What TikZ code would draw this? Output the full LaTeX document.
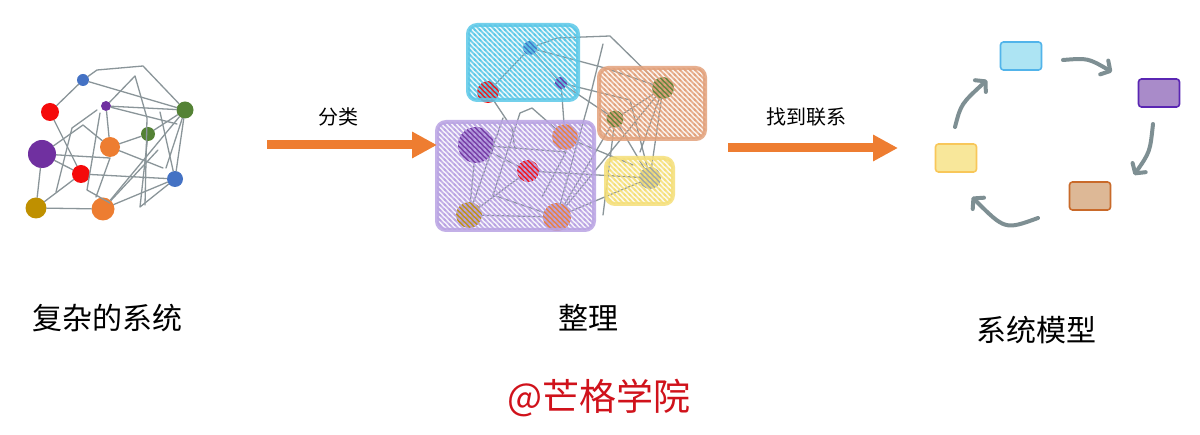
\documentclass[tikz,border=0pt]{standalone}
\usepackage{fontspec}
\newfontfamily\cjk{Noto Sans CJK SC}
\usetikzlibrary{arrows.meta,patterns}
\definecolor{nblue}{HTML}{4472C4}
\definecolor{nred}{HTML}{F50A0A}
\definecolor{npurple}{HTML}{7030A0}
\definecolor{ngreen}{HTML}{548235}
\definecolor{norange}{HTML}{ED7D31}
\definecolor{ngold}{HTML}{BF9000}
\definecolor{ngray}{HTML}{9AA3A8}
\definecolor{edgecol}{HTML}{8A9599}
\definecolor{arrorange}{HTML}{EE7D31}
\definecolor{cyanbox}{HTML}{5BC8E8}
\definecolor{brownbox}{HTML}{E3A27C}
\definecolor{purplebox}{HTML}{B9A3E3}
\definecolor{yellowbox}{HTML}{F5DF78}
\definecolor{loopgray}{HTML}{7E8F93}
\definecolor{mark}{HTML}{D0121B}
\definecolor{tanfill}{HTML}{DDB896}
\definecolor{lilac}{HTML}{A98BC9}
\pgfdeclarepatternformonly{hatchnw}{\pgfqpoint{-1pt}{-1pt}}{\pgfqpoint{6pt}{6pt}}{\pgfqpoint{5pt}{5pt}}{%
  \pgfsetlinewidth{1.6pt}%
  \pgfpathmoveto{\pgfqpoint{0pt}{5pt}}\pgfpathlineto{\pgfqpoint{5pt}{0pt}}%
  \pgfpathmoveto{\pgfqpoint{-1pt}{1pt}}\pgfpathlineto{\pgfqpoint{1pt}{-1pt}}%
  \pgfpathmoveto{\pgfqpoint{4pt}{6pt}}\pgfpathlineto{\pgfqpoint{6pt}{4pt}}%
  \pgfusepath{stroke}}
\tikzset{
  dot/.style={circle, inner sep=0pt, draw=none, minimum size=#1},
  edge/.style={draw=edgecol, line width=1.3pt, line join=round, line cap=round},
  hatchbox/.style={rounded corners=9pt, line width=4pt, draw=#1, draw opacity=0.85,
    fill=#1, fill opacity=0.14,
    postaction={pattern=hatchnw, pattern color=#1, fill opacity=0.45}},
  rbox/.style={rectangle, rounded corners=3pt, minimum width=41pt, minimum height=28pt, line width=1.6pt, inner sep=0pt},
  looparrow/.style={draw=loopgray, line width=4pt, line cap=round,
    -{Straight Barb[length=7pt,width=16pt,round]}},
  bigarrow/.style={draw=arrorange, line width=9pt, -{Triangle[length=25pt,width=25pt]}},
  lbl/.style={font=\cjk\fontsize{30}{30}\selectfont, inner sep=0pt},
  albl/.style={font=\cjk\fontsize{20}{20}\selectfont, inner sep=0pt}
}
\begin{document}
\begin{tikzpicture}[x=1pt,y=-1pt]
\useasboundingbox (0,0) rectangle (1200,435);
\fill[white] (0,0) rectangle (1200,435);

% ---------- left network ----------
\node[dot=12pt, fill=nblue] (L1) at (83,80) {};
\node[dot=18pt, fill=nred] (L2) at (50,112) {};
\node[dot=10pt, fill=npurple] (L3) at (106,106) {};
\node[dot=17pt, fill=ngreen] (L4) at (185,110) {};
\node[dot=14pt, fill=ngreen] (L5) at (148,134) {};
\node[dot=20pt, fill=norange] (L6) at (110,147) {};
\node[dot=28pt, fill=npurple] (L7) at (42,154) {};
\node[dot=18pt, fill=nred] (L8) at (81,174) {};
\node[dot=16pt, fill=nblue] (L9) at (175,179) {};
\node[dot=21pt, fill=ngold] (L10) at (36,208) {};
\node[dot=23pt, fill=norange] (L11) at (103,209) {};

\draw[edge] (L1) -- (L2);
\draw[edge] (L1) -- (97,70) -- (143,66) -- (L4);
\draw[edge] (L1) -- (L4);
\draw[edge] (L3) -- (135,76) -- (147,118) -- (145,205);
\draw[edge] (L3) -- (L6);
\draw[edge] (L3) -- (177,124);
\draw[edge] (L3) -- (L4);
\draw[edge] (L6) -- (L5) -- (L4);
\draw[edge] (L5) -- (140,207) -- (L9);
\draw[edge] (L7) -- (83,125) -- (L6);
\draw[edge] (L7) -- (L8);
\draw[edge] (L7) -- (L10);
\draw[edge] (L7) -- (110,158) -- (96,197);
\draw[edge] (L8) -- (L9);
\draw[edge] (L10) -- (L11);
\draw[edge] (L10) -- (L8);
\draw[edge] (L11) -- (L9);
\draw[edge] (L11) -- (L4);
\draw[edge] (L11) -- (158,150);
\draw[edge] (L6) -- (163,168);
\draw[edge] (L2) -- (L8);
\draw[edge] (100,113) -- (87,190) -- (110,203);
\draw[edge] (56,192) -- (72,128) -- (97,110);
\draw[edge] (160,112) -- (L9);
\draw[edge] (L4) -- (L9);
\draw[edge] (L4) -- (166,168);

% ---------- middle network ----------
\node[dot=14pt, fill=nblue] (M1) at (530,48) {};
\node[dot=22pt, fill=nred] (M2) at (488,92) {};
\node[dot=12pt, fill=npurple] (M3) at (561,83) {};
\node[dot=22pt, fill=ngreen] (M4) at (663,88) {};
\node[dot=17pt, fill=ngreen] (M5) at (615,119) {};
\node[dot=26pt, fill=norange] (M6) at (565,137) {};
\node[dot=36pt, fill=npurple] (M7) at (476,145) {};
\node[dot=22pt, fill=nred] (M8) at (528,171) {};
\node[dot=22pt, fill=ngray] (M9) at (650,178) {};
\node[dot=26pt, fill=ngold] (M10) at (469,215) {};
\node[dot=28pt, fill=norange] (M11) at (557,217) {};

\draw[edge] (M1) -- (M2);
\draw[edge] (M1) -- (557,38) -- (610,36) -- (M4);
\draw[edge] (M1) -- (605,68) -- (M4);
\draw[edge] (M1) -- (M3);
\draw[edge] (M3) -- (M5);
\draw[edge] (M3) -- (M6);
\draw[edge] (M3) -- (630,100) -- (M9);
\draw[edge] (M2) -- (512,128) -- (515,150);
\draw[edge] (603,44) -- (588,105) -- (560,205);
\draw[edge] (M5) -- (M4);
\draw[edge] (M5) -- (M9);
\draw[edge] (M4) -- (M9);
\draw[edge] (M4) -- (M11);
\draw[edge] (M5) -- (M11);
\draw[edge] (M7) -- (M10);
\draw[edge] (M7) -- (M8);
\draw[edge] (M7) -- (566,152) -- (542,197);
\draw[edge] (M8) -- (M9);
\draw[edge] (M10) -- (M11);
\draw[edge] (M10) -- (M8);
\draw[edge] (M11) -- (M9);
\draw[edge] (M6) -- (633,165);
\draw[edge] (493,195) -- (520,113) -- (532,108) -- (M6);
\draw[edge] (493,195) -- (M11);
\draw[edge] (603,215) -- (M5);
\draw[edge] (M4) -- (640,152);
\draw[edge] (M10) -- (503,118);

% boxes over the middle network
\path[hatchbox=cyanbox] (468,25) rectangle (578,100);
\path[hatchbox=brownbox] (599,68) rectangle (705,139);
\path[hatchbox=yellowbox] (606,158) rectangle (673,204);
\path[hatchbox=purplebox] (437,122) rectangle (594,230);

% ---------- arrows between stages ----------
\coordinate (a1s) at (267,145);
\coordinate (a1e) at (437,145);
\coordinate (a2s) at (728,148);
\coordinate (a2e) at (898,148);
\draw[bigarrow] (a1s) -- (a1e);
\draw[bigarrow] (a2s) -- (a2e);
\node[albl] (t4) at (338,117) {分类};
\node[albl] (t5) at (806,117) {找到联系};

% ---------- right loop ----------
\node[rbox, fill=cyanbox!50, draw=cyanbox!90!blue] (R1) at (1021,56) {};
\node[rbox, fill=lilac, draw=npurple!80!blue] (R2) at (1159,93) {};
\node[rbox, fill=tanfill, draw=norange!85!black] (R3) at (1090,196) {};
\node[rbox, fill=yellowbox!75, draw=yellowbox!75!orange] (R4) at (956,158) {};
\coordinate (c1s) at (1063,60);
\coordinate (c1e) at (1112,72);
\coordinate (c2s) at (1153,124);
\coordinate (c2e) at (1134,175);
\coordinate (c3s) at (1038,218);
\coordinate (c3e) at (972,197);
\coordinate (c4s) at (955,127);
\coordinate (c4e) at (987,80);
\draw[looparrow] (c1s) .. controls (1088,58) .. (c1e);
\draw[looparrow] (c2s) .. controls (1150,152) .. (c2e);
\draw[looparrow] (c3s) .. controls (1005,230) .. (c3e);
\draw[looparrow] (c4s) .. controls (961,104) .. (c4e);

% ---------- labels ----------
\node[lbl] (t1) at (107,318) {复杂的系统};
\node[lbl] (t2) at (588,318) {整理};
\node[lbl] (t3) at (1036,330) {系统模型};
\node[font=\cjk\fontsize{37}{37}\selectfont, text=mark, inner sep=0pt] (t6) at (599,398) {@芒格学院};
\end{tikzpicture}
\end{document}
